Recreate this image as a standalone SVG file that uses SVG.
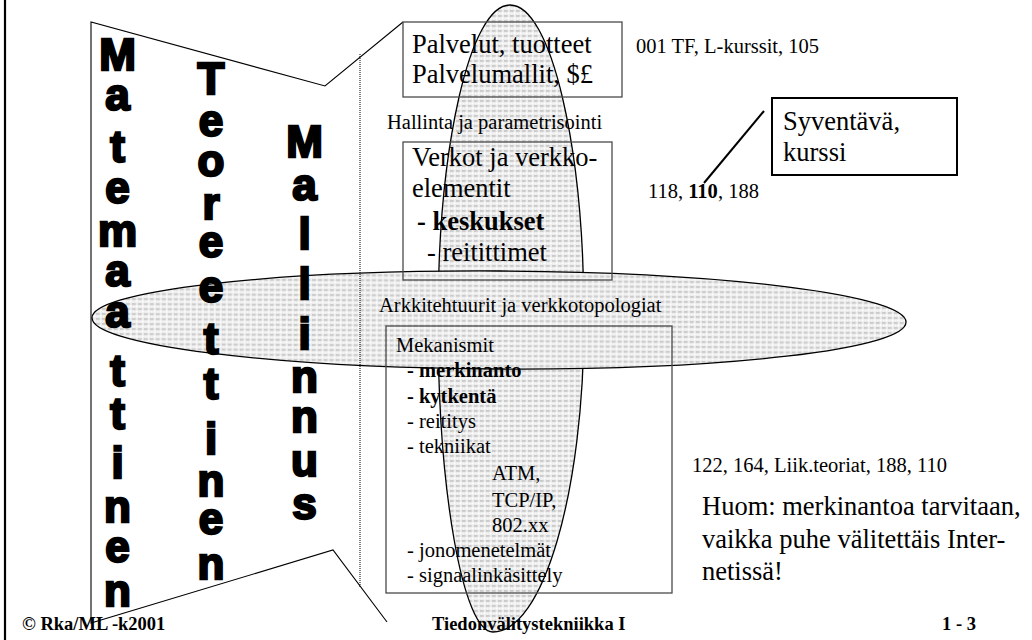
<svg xmlns="http://www.w3.org/2000/svg" width="1032" height="640" viewBox="0 0 1032 640">
  <defs>
    <!-- light dotted grey fill used by the two ellipses -->
    <pattern id="dots" width="6" height="5" patternUnits="userSpaceOnUse">
      <rect width="6" height="5" fill="#ececec"/>
      <rect x="0" y="0.2" width="3.6" height="1.5" fill="#c2c2c2"/>
      <circle cx="4.6" cy="3.4" r="1.1" fill="#ffffff"/>
      <circle cx="1.6" cy="3.6" r="0.9" fill="#f8f8f8"/>
    </pattern>
    <style>
      .serif { font-family: "Liberation Serif", "Times New Roman", serif; fill: #000; }
      .sm { font-size: 20.5px; }
      .lg { font-size: 26.5px; }
      .foot { font-size: 18.5px; font-weight: bold; }
      .b { font-weight: bold; }
      .big { font-family: "Liberation Sans", Arial, sans-serif; font-weight: bold; font-size: 44px;
             fill: #000; stroke: #000; stroke-width: 2.4; stroke-linejoin: miter; text-anchor: middle; }
      .box { fill: none; stroke: #4a4a4a; stroke-width: 1.3; }
      .thin { fill: none; stroke: #000; stroke-width: 1.1; }
      .blob { fill: url(#dots); stroke: #000; stroke-width: 1.3; }
    </style>
  </defs>

  <rect width="1032" height="640" fill="#fff"/>

  <!-- ellipses (drawn first, everything else sits on top) -->
  <g id="ellipses">
    <path id="vertical-ellipse" class="blob"
          d="M510,5 C551,5 584,146 584,320 C584,492 543,632 493,632 C463,632 438,492 438,320 C438,146 470,5 510,5 Z"/>
    <ellipse id="horizontal-ellipse" class="blob" cx="499" cy="320" rx="407" ry="49" transform="rotate(0.3 499 320)"/>
  </g>

  <!-- page frame and the funnel outline -->
  <g id="frame">
    <line x1="5" y1="0" x2="5" y2="640" stroke="#000" stroke-width="2.2"/>
    <polyline class="thin" points="403,22 325,86 91,22 91,623 333,550 387,622"/>
    <line x1="360" y1="54" x2="360" y2="588" stroke="#000" stroke-width="1" stroke-dasharray="1 1"/>
  </g>

  <!-- vertical headings -->
  <g id="col-matemaattinen">
    <text class="big">
      <tspan x="117.5" y="69.5">M</tspan><tspan x="117.5" y="109.5">a</tspan><tspan x="117.5" y="161.5">t</tspan><tspan x="117.5" y="202.5">e</tspan><tspan x="117.5" y="245.5">m</tspan><tspan x="117.5" y="285.5">a</tspan><tspan x="117.5" y="326.5">a</tspan><tspan x="117.5" y="385.5">t</tspan><tspan x="117.5" y="428.5">t</tspan><tspan x="117.5" y="477.5">i</tspan><tspan x="117.5" y="521.5">n</tspan><tspan x="117.5" y="561.5">e</tspan><tspan x="117.5" y="605.5">n</tspan>
    </text>
  </g>
  <g id="col-teoreettinen">
    <text class="big">
      <tspan x="211" y="93.5">T</tspan><tspan x="211" y="135.5">e</tspan><tspan x="211" y="175.5">o</tspan><tspan x="211" y="218.5">r</tspan><tspan x="211" y="256.5">e</tspan><tspan x="211" y="301.5">e</tspan><tspan x="211" y="353.5">t</tspan><tspan x="211" y="398.5">t</tspan><tspan x="211" y="453.5">i</tspan><tspan x="211" y="495.5">n</tspan><tspan x="211" y="533.5">e</tspan><tspan x="211" y="578.5">n</tspan>
    </text>
  </g>
  <g id="col-mallinnus">
    <text class="big">
      <tspan x="304.5" y="156.5">M</tspan><tspan x="304.5" y="199.5">a</tspan><tspan x="304.5" y="248.5">l</tspan><tspan x="304.5" y="298.5">l</tspan><tspan x="304.5" y="348.5">i</tspan><tspan x="304.5" y="391.5">n</tspan><tspan x="304.5" y="431.5">n</tspan><tspan x="304.5" y="475.5">u</tspan><tspan x="304.5" y="518.5">s</tspan>
    </text>
  </g>

  <!-- layer boxes -->
  <g id="box-palvelut">
    <rect class="box" x="403" y="22" width="219" height="75"/>
    <text class="serif lg" x="412" y="53">Palvelut, tuotteet</text>
    <text class="serif lg" x="412" y="83">Palvelumallit, $£</text>
  </g>

  <g id="label-hallinta">
    <text class="serif sm" x="387" y="129">Hallinta ja parametrisointi</text>
  </g>

  <g id="box-verkot">
    <rect class="box" x="403" y="142" width="209" height="138"/>
    <text class="serif lg" x="412" y="166">Verkot ja verkko-</text>
    <text class="serif lg" x="412" y="197">elementit</text>
    <text class="serif lg b" x="417" y="230">- keskukset</text>
    <text class="serif lg" x="427" y="261">- reitittimet</text>
  </g>

  <g id="label-arkkitehtuurit">
    <text class="serif sm" x="379" y="312">Arkkitehtuurit ja verkkotopologiat</text>
  </g>

  <g id="box-mekanismit">
    <rect class="box" x="386" y="326" width="286" height="267"/>
    <text class="serif sm" x="396" y="352">Mekanismit</text>
    <text class="serif sm b" x="407" y="377">- merkinanto</text>
    <text class="serif sm b" x="407" y="403">- kytkentä</text>
    <text class="serif sm" x="407" y="428">- reititys</text>
    <text class="serif sm" x="407" y="453">- tekniikat</text>
    <text class="serif sm" x="492" y="480">ATM,</text>
    <text class="serif sm" x="492" y="507">TCP/IP,</text>
    <text class="serif sm" x="492" y="532">802.xx</text>
    <text class="serif sm" x="407" y="557">- jonomenetelmät</text>
    <text class="serif sm" x="407" y="582">- signaalinkäsittely</text>
  </g>

  <!-- course references -->
  <g id="label-courses-1">
    <text class="serif sm" x="636" y="53">001 TF, L-kurssit, 105</text>
  </g>
  <g id="label-courses-2">
    <text class="serif sm" x="648" y="198">118, <tspan class="b">110</tspan>, 188</text>
  </g>
  <g id="label-courses-3">
    <text class="serif sm" x="692" y="472">122, 164, Liik.teoriat, 188, 110</text>
  </g>

  <g id="box-syventava">
    <rect x="772" y="98" width="185" height="77" fill="#fff" stroke="#000" stroke-width="2"/>
    <text class="serif lg" x="783" y="130">Syventävä,</text>
    <text class="serif lg" x="783" y="161">kurssi</text>
  </g>

  <g id="note-huom">
    <text class="serif lg" x="702" y="515">Huom: merkinantoa tarvitaan,</text>
    <text class="serif lg" x="702" y="548">vaikka puhe välitettäis Inter-</text>
    <text class="serif lg" x="702" y="580">netissä!</text>
  </g>

  <!-- connectors -->
  <g id="connectors">
    <line x1="704" y1="183" x2="764" y2="111" stroke="#000" stroke-width="2"/>
  </g>

  <!-- footer -->
  <g id="footer">
    <text class="serif foot" x="22" y="630">© Rka/ML -k2001</text>
    <text class="serif foot" x="432" y="630">Tiedonvälitystekniikka I</text>
    <text class="serif foot" x="942" y="630">1 - 3</text>
  </g>
</svg>
